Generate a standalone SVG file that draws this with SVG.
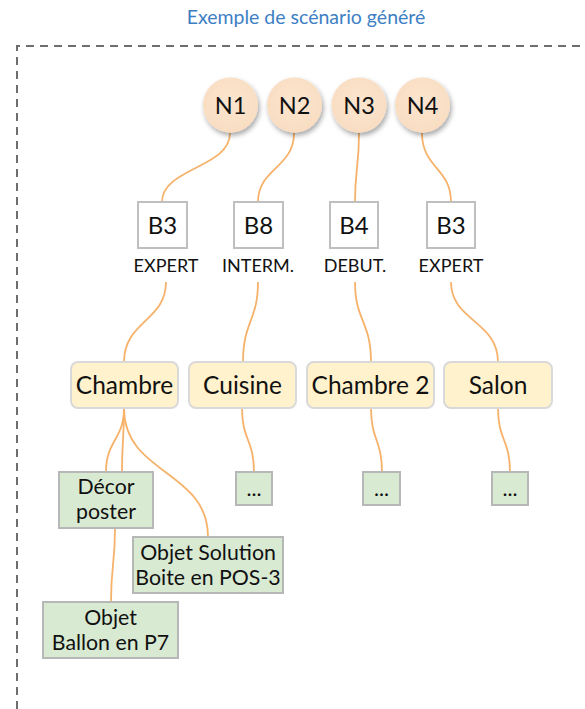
<svg xmlns="http://www.w3.org/2000/svg" width="585" height="709" viewBox="0 0 585 709">
  <defs>
    <filter id="shadow" x="-30%" y="-30%" width="170%" height="170%">
      <feDropShadow dx="1.5" dy="3" stdDeviation="2.5" flood-color="#000" flood-opacity="0.35"/>
    </filter>
    <radialGradient id="peach" cx="0.5" cy="0.45" r="0.6">
      <stop offset="0" stop-color="#fce6d0"/>
      <stop offset="1" stop-color="#f8dcc0"/>
    </radialGradient>
  </defs>
  <style>
    text { font-family: Lato, "Open Sans", sans-serif; fill: #111; text-anchor: middle; }
    .title { font-size: 19.5px; fill: #3d7fc4; }
    .frame { fill: none; stroke: #6e6e6e; stroke-width: 2; stroke-dasharray: 8 6; }
    .n circle { fill: url(#peach); filter: url(#shadow); }
    .n text { font-size: 23.5px; }
    .b rect { fill: #fff; stroke: #bfbfbf; stroke-width: 2; }
    .b text { font-size: 24px; }
    .b text.lvl { font-size: 18px; }
    .room rect { fill: #fff2cc; stroke: #d9d9d9; stroke-width: 2; }
    .room text { font-size: 24.5px; }
    .item rect { fill: #d9ead3; stroke: #b7b7b7; stroke-width: 2; }
    .item text { font-size: 21.3px; }
    .links path { fill: none; stroke: #f6b26b; stroke-width: 1.8; }
  </style>

  <text class="title" x="306" y="24">Exemple de scénario généré</text>

  <!-- dashed frame (continues past the right and bottom edges) -->
  <path class="frame" d="M17 709 V46 H600"/>

  <!-- connectors -->
  <g class="links">
    <path d="M230 133 C230 168 162 168 162 202"/>
    <path d="M294 133 C294 168 258 168 258 202"/>
    <path d="M359 133 C359 168 355 168 355 202"/>
    <path d="M422 133 C422 168 451 168 451 202"/>
    <path d="M166 282 C166 321 124 321 124 362"/>
    <path d="M258 282 C258 321 243 321 243 362"/>
    <path d="M355 282 C355 321 371 321 371 362"/>
    <path d="M451 282 C451 321 498 321 498 362"/>
    <path d="M124 408 C124 440 106 440 106 472"/>
    <path d="M124 408 C124 440 122 440 122 472"/>
    <path d="M124 408 C124 475 208 470 208 537"/>
    <path d="M242 408 C242 440 254 440 254 472"/>
    <path d="M371 408 C371 440 382 440 382 472"/>
    <path d="M498 408 C498 440 510 440 510 472"/>
    <path d="M115 528 C115 565 111 565 111 602"/>
  </g>

  <!-- level nodes -->
  <g id="n1" class="n"><circle cx="230.5" cy="105" r="27.5"/><text x="230.5" y="113.5">N1</text></g>
  <g id="n2" class="n"><circle cx="294.5" cy="105" r="27.5"/><text x="294.5" y="113.5">N2</text></g>
  <g id="n3" class="n"><circle cx="359" cy="105" r="27.5"/><text x="359" y="113.5">N3</text></g>
  <g id="n4" class="n"><circle cx="422.5" cy="105" r="27.5"/><text x="422.5" y="113.5">N4</text></g>

  <!-- blocks with difficulty -->
  <g id="b3a" class="b"><rect x="138" y="202" width="49" height="46"/><text x="162.5" y="233.5">B3</text><text class="lvl" x="166" y="272">EXPERT</text></g>
  <g id="b8" class="b"><rect x="234" y="202" width="49" height="46"/><text x="258.5" y="233.5">B8</text><text class="lvl" x="258" y="272">INTERM.</text></g>
  <g id="b4" class="b"><rect x="330" y="202" width="48" height="46"/><text x="354" y="233.5">B4</text><text class="lvl" x="355" y="272">DEBUT.</text></g>
  <g id="b3b" class="b"><rect x="427" y="202" width="48" height="46"/><text x="451" y="233.5">B3</text><text class="lvl" x="451" y="272">EXPERT</text></g>

  <!-- rooms -->
  <g id="chambre" class="room"><rect x="71" y="362" width="107" height="46" rx="7"/><text x="124.5" y="394">Chambre</text></g>
  <g id="cuisine" class="room"><rect x="189" y="362" width="107" height="46" rx="7"/><text x="242.5" y="394">Cuisine</text></g>
  <g id="chambre2" class="room"><rect x="307" y="362" width="127" height="46" rx="7"/><text x="370.5" y="394">Chambre 2</text></g>
  <g id="salon" class="room"><rect x="444" y="362" width="108" height="46" rx="7"/><text x="498" y="394">Salon</text></g>

  <!-- room contents -->
  <g id="decor" class="item"><rect x="59" y="472" width="94" height="56"/><text x="106" y="494">Décor</text><text x="106" y="519">poster</text></g>
  <g id="solution" class="item"><rect x="133" y="537" width="150" height="56"/><text x="208" y="560">Objet Solution</text><text x="208" y="585">Boite en POS-3</text></g>
  <g id="ballon" class="item"><rect x="43" y="602" width="135" height="56"/><text x="110.5" y="625">Objet</text><text x="110.5" y="650">Ballon en P7</text></g>
  <g id="more1" class="item"><rect x="236" y="472" width="36" height="33"/><text x="254" y="496">...</text></g>
  <g id="more2" class="item"><rect x="363" y="472" width="37" height="33"/><text x="381.5" y="496">...</text></g>
  <g id="more3" class="item"><rect x="492" y="472" width="36" height="33"/><text x="510" y="496">...</text></g>
</svg>
